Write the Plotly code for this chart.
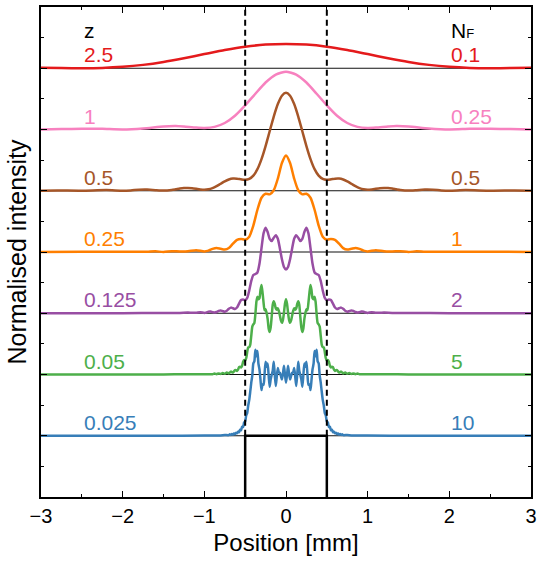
import plotly.graph_objects as go

# ---------------- data (curves are symmetric about x=0) ----------------
z_labels = ["2.5", "1", "0.5", "0.25", "0.125", "0.05", "0.025"]
nf_labels = ["0.1", "0.25", "0.5", "1", "2", "5", "10"]
offsets = [7, 6, 5, 4, 3, 2, 1]          # baseline of each stacked curve
colors = ["#e41a1c", "#f781bf", "#a65628", "#ff7f00", "#984ea3", "#4daf4a", "#377eb8"]

# NF = 0.1
x_nf01 = [0, 0.25, 0.5, 0.75, 1.0, 1.25, 1.5, 1.75, 2.0, 2.25, 2.5, 2.75, 3.0]
i_nf01 = [0.396, 0.386, 0.352, 0.297, 0.231, 0.164, 0.103, 0.055, 0.023, 0.006, 0.001, 0.003, 0.010]

# NF = 0.25
x_nf025 = [0, 0.125, 0.25, 0.375, 0.5, 0.625, 0.75, 0.875, 1.0, 1.1, 1.25, 1.35, 1.5, 1.75,
           2.0, 2.25, 2.5, 2.75, 3.0]
i_nf025 = [0.944, 0.897, 0.767, 0.584, 0.394, 0.225, 0.106, 0.043, 0.025, 0.031, 0.049, 0.057,
           0.050, 0.018, 0.002, 0.011, 0.013, 0.0065, 0.0005]

# NF = 0.5
x_nf05 = [0, 0.05, 0.1, 0.15, 0.2, 0.25, 0.3, 0.35, 0.4, 0.45, 0.5, 0.55, 0.6, 0.65, 0.7, 0.75,
          0.8, 0.85, 0.9, 0.95, 1.0, 1.05, 1.15, 1.2, 1.25, 1.3, 1.35, 1.4, 1.5, 1.6, 1.7, 1.8,
          1.9, 2.0, 2.2, 2.5, 2.8, 3.0]
i_nf05 = [1.600, 1.552, 1.415, 1.211, 0.971, 0.730, 0.517, 0.353, 0.246, 0.192, 0.178, 0.186,
          0.197, 0.199, 0.184, 0.154, 0.115, 0.075, 0.043, 0.023, 0.017, 0.022, 0.041, 0.046,
          0.044, 0.036, 0.024, 0.013, 0.003, 0.010, 0.019, 0.017, 0.006, 0.001, 0.011, 0.001,
          0.005, 0.002]

# NF = 1
x_nf1 = [0, 0.05, 0.1, 0.15, 0.2, 0.25, 0.3, 0.35, 0.4, 0.45, 0.5, 0.55, 0.6, 0.65, 0.7, 0.75,
         0.8, 0.85, 0.9, 0.95, 1.0, 1.1, 1.2, 1.3, 1.4, 1.5, 1.6, 1.7, 1.8, 2.0, 2.5, 3.0]
i_nf1 = [1.576, 1.453, 1.198, 1.008, 0.941, 0.951, 0.886, 0.690, 0.431, 0.251, 0.201, 0.212,
         0.199, 0.136, 0.064, 0.040, 0.052, 0.067, 0.051, 0.022, 0.010, 0.030, 0.011, 0.008,
         0.014, 0.001, 0.011, 0.004, 0.004, 0.006, 0.003, 0.002]

# NF = 2
x_nf2 = [0, 0.025, 0.05, 0.075, 0.1, 0.125, 0.15, 0.175, 0.2, 0.225, 0.25, 0.275, 0.3, 0.325,
         0.35, 0.375, 0.4, 0.425, 0.45, 0.475, 0.5, 0.525, 0.55, 0.575, 0.6, 0.625, 0.65, 0.675,
         0.7, 0.725, 0.75, 0.775, 0.8, 0.825, 0.85, 0.875, 0.9, 0.925, 0.95, 0.975, 1.0, 1.05,
         1.1, 1.15, 1.2, 1.3, 1.5, 2.0, 3.0]
i_nf2 = [0.713, 0.756, 0.881, 1.059, 1.216, 1.274, 1.233, 1.180, 1.215, 1.327, 1.397, 1.304,
         1.062, 0.807, 0.666, 0.640, 0.624, 0.528, 0.372, 0.250, 0.213, 0.225, 0.215, 0.157,
         0.093, 0.069, 0.082, 0.092, 0.072, 0.040, 0.025, 0.035, 0.046, 0.039, 0.020, 0.011,
         0.018, 0.027, 0.024, 0.012, 0.005, 0.018, 0.008, 0.007, 0.012, 0.006, 0.004, 0.002,
         0.001]

# NF = 5
x_nf5 = [0, 0.0125, 0.025, 0.0375, 0.05, 0.0625, 0.075, 0.0875, 0.1, 0.1125, 0.125, 0.1375,
         0.15, 0.1625, 0.175, 0.1875, 0.2, 0.2125, 0.225, 0.2375, 0.25, 0.2625, 0.275, 0.2875,
         0.3, 0.3125, 0.325, 0.3375, 0.35, 0.3625, 0.375, 0.3875, 0.4, 0.4125, 0.425, 0.4375,
         0.45, 0.4625, 0.475, 0.4875, 0.5, 0.5125, 0.525, 0.5375, 0.55, 0.5625, 0.575, 0.5875,
         0.6, 0.6125, 0.625, 0.65, 0.675, 0.7, 0.725, 0.75, 0.775, 0.8, 0.825, 0.85, 0.875,
         0.9, 1.0, 1.2, 1.5, 3.0]
i_nf5 = [1.228, 1.155, 1.010, 0.892, 0.843, 0.884, 0.962, 1.039, 1.081, 1.058, 1.077, 1.154,
         1.195, 1.139, 0.947, 0.771, 0.695, 0.752, 0.909, 1.004, 1.066, 1.050, 1.177, 1.340,
         1.462, 1.377, 1.246, 1.230, 1.270, 1.188, 0.985, 0.841, 0.818, 0.782, 0.636, 0.488,
         0.446, 0.442, 0.369, 0.265, 0.226, 0.236, 0.207, 0.143, 0.114, 0.127, 0.119, 0.079,
         0.059, 0.071, 0.072, 0.032, 0.047, 0.018, 0.032, 0.012, 0.024, 0.008, 0.018, 0.006,
         0.015, 0.004, 0.006, 0.004, 0.002, 0.001]

# NF = 10
x_nf10 = [0, 0.0125, 0.025, 0.0375, 0.05, 0.0625, 0.075, 0.0875, 0.1, 0.1125, 0.125, 0.1375,
          0.15, 0.1625, 0.175, 0.1875, 0.2, 0.2125, 0.225, 0.2375, 0.25, 0.2625, 0.275, 0.2875,
          0.3, 0.3125, 0.325, 0.3375, 0.35, 0.3625, 0.375, 0.3875, 0.4, 0.4125, 0.425, 0.4375,
          0.45, 0.4625, 0.475, 0.4875, 0.5, 0.5125, 0.525, 0.5375, 0.55, 0.5625, 0.575, 0.5875,
          0.6, 0.6125, 0.625, 0.6375, 0.65, 0.6625, 0.675, 0.6875, 0.7, 0.75, 0.8, 0.9, 1.0,
          1.5, 3.0]
i_nf10 = [0.868, 0.996, 1.141, 1.013, 0.918, 0.976, 1.027, 1.036, 1.106, 0.968, 0.813, 1.000,
          1.209, 1.061, 0.995, 0.924, 0.801, 0.984, 1.180, 1.127, 1.208, 1.008, 0.834, 0.837,
          0.745, 0.913, 1.085, 1.175, 1.383, 1.296, 1.406, 1.214, 1.183, 0.984, 0.870, 0.723,
          0.586, 0.497, 0.374, 0.331, 0.233, 0.218, 0.144, 0.145, 0.090, 0.098, 0.058, 0.068,
          0.039, 0.050, 0.026, 0.037, 0.018, 0.028, 0.013, 0.024, 0.010, 0.012, 0.006, 0.004,
          0.003, 0.001, 0.000]

curves_x = [x_nf01, x_nf025, x_nf05, x_nf1, x_nf2, x_nf5, x_nf10]
curves_i = [i_nf01, i_nf025, i_nf05, i_nf1, i_nf2, i_nf5, i_nf10]

# aperture (slit of width 1 mm)
aperture_x = [-0.5, -0.5, 0.5, 0.5]
aperture_y = [0, 1, 1, 0]
slit_edges = [-0.5, 0.5]


def mirror(xs, ys):
    fx = [-v for v in reversed(xs[1:])] + list(xs)
    fy = list(reversed(ys[1:])) + list(ys)
    return fx, fy


FONT = "Liberation Sans, Arial, Helvetica, sans-serif"

fig = go.Figure()

for xs, ys, off, col in zip(curves_x, curves_i, offsets, colors):
    fx, fy = mirror(xs, ys)
    fig.add_trace(go.Scatter(
        x=fx, y=[v + off for v in fy], mode="lines",
        line=dict(color=col, width=2.5, shape="spline", smoothing=0.6),
        hoverinfo="skip"))

fig.add_trace(go.Scatter(x=aperture_x, y=aperture_y, mode="lines",
                         line=dict(color="black", width=2.5), hoverinfo="skip"))

shapes = []
for off in offsets:
    shapes.append(dict(type="line", xref="x", yref="y", x0=-3, x1=3, y0=off, y1=off,
                       layer="below", line=dict(color="#111111", width=1.1)))
for xe in slit_edges:
    shapes.append(dict(type="line", xref="x", yref="y", x0=xe, x1=xe, y0=1, y1=8,
                       layer="above", line=dict(color="black", width=2, dash="6px,4px")))

annotations = []
for zl, nl, off, col in zip(z_labels, nf_labels, offsets, colors):
    annotations.append(dict(x=-2.5, y=off + 0.22, xref="x", yref="y", text=zl, showarrow=False,
                            xanchor="left", yanchor="middle",
                            font=dict(family=FONT, size=21, color=col)))
    annotations.append(dict(x=2.0, y=off + 0.22, xref="x", yref="y", text=nl, showarrow=False,
                            xanchor="left", yanchor="middle",
                            font=dict(family=FONT, size=21, color=col)))
annotations.append(dict(x=-2.5, y=7.62, xref="x", yref="y", text="z", showarrow=False,
                        xanchor="left", yanchor="middle", font=dict(family=FONT, size=21, color="black")))
annotations.append(dict(x=2.0, y=7.62, xref="x", yref="y",
                        text="N<span style='font-size:13px'>F</span>", showarrow=False,
                        xanchor="left", yanchor="middle", font=dict(family=FONT, size=21, color="black")))

fig.update_layout(
    width=539, height=566,
    margin=dict(l=41, r=8, t=7, b=69, autoexpand=False),
    plot_bgcolor="white", paper_bgcolor="white",
    showlegend=False,
    font=dict(family=FONT, color="black"),
    shapes=shapes, annotations=annotations,
    xaxis=dict(range=[-3, 3], tickmode="linear", tick0=-3, dtick=1, automargin=False,
               ticks="inside", ticklen=6, tickwidth=1.2, tickcolor="black",
               minor=dict(dtick=0.5, ticks="inside", ticklen=3, tickwidth=1.2, tickcolor="black"),
               showline=True, linecolor="black", linewidth=1.5, mirror="ticks",
               showgrid=False, zeroline=False,
               tickfont=dict(family=FONT, size=20, color="black"),
               title=dict(text="Position [mm]", font=dict(family=FONT, size=24, color="black"),
                          standoff=8)),
    yaxis=dict(range=[0, 8], tickmode="linear", tick0=0, dtick=1, automargin=False,
               ticks="inside", ticklen=6, tickwidth=1.2, tickcolor="black",
               minor=dict(dtick=0.5, ticks="inside", ticklen=3, tickwidth=1.2, tickcolor="black"),
               showline=True, linecolor="black", linewidth=1.5, mirror="ticks",
               showgrid=False, zeroline=False, showticklabels=False,
               title=dict(text="Normalised intensity", font=dict(family=FONT, size=25, color="black"),
                          standoff=6)),
)

fig.write_html("out.html")
